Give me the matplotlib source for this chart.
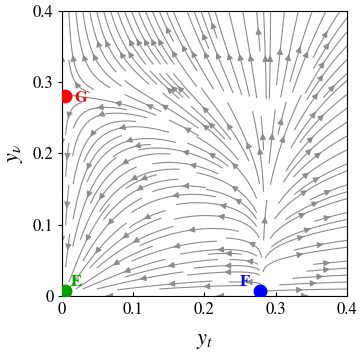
import numpy as np
import matplotlib.pyplot as plt

plt.rcParams['font.family'] = 'STIXGeneral'
plt.rcParams['mathtext.fontset'] = 'stix'

# puntos criticos
point_names = ['E', 'F', 'G']
point_x = [0.005, 0.278, 0.005]
point_y = [0.007, 0.007, 0.281]
point_colors = ['#00a000', '#0000ff', '#ff0000']

# parametros del campo
a_t = 0.28
b_v = 0.28
k_t = 3.0
lam = 5.0
alpha = 0.03
beta = 1.15 * b_v / a_t ** 2

ticks = [0, 0.1, 0.2, 0.3, 0.4]
tick_labels = ['0', '0.1', '0.2', '0.3', '0.4']

xs = np.linspace(0, 0.4, 200)
ys = np.linspace(0, 0.4, 200)
X, Y = np.meshgrid(xs, ys)
U = k_t * X * (X - a_t - alpha * Y) * np.exp(lam * (X - a_t))
V = Y * (Y - b_v + beta * X ** 2)

fig = plt.figure(figsize=(3.6, 3.54), dpi=100)
ax = fig.add_axes([0.172, 0.164, 0.792, 0.805])
ax.streamplot(X, Y, U, V, density=1.4, color='#8c8c8c', linewidth=0.8,
              arrowsize=0.9, maxlength=0.65, broken_streamlines=True)

for name, px, py, c in zip(point_names, point_x, point_y, point_colors):
    ax.plot(px, py, 'o', color=c, markersize=9, zorder=5, clip_on=True)

ax.text(0.018, 0.278, 'G', color='#ff0000', fontsize=12, fontweight='bold',
        va='center', ha='left')
ax.text(0.264, 0.020, 'F', color='#0000ff', fontsize=12, fontweight='bold',
        va='center', ha='right')
ax.text(0.012, 0.020, 'E', color='#00a000', fontsize=12, fontweight='bold',
        va='center', ha='left')

ax.set_xlim(0, 0.4)
ax.set_ylim(0, 0.4)
ax.set_xticks(ticks)
ax.set_xticklabels(tick_labels)
ax.set_yticks(ticks)
ax.set_yticklabels(tick_labels)
ax.tick_params(axis='x', direction='in', length=3, labelsize=12, pad=4)
ax.tick_params(axis='y', direction='out', length=3, labelsize=12, pad=3)
ax.set_xlabel('$y_t$', fontsize=16, labelpad=10)
ax.set_ylabel('$y_\\nu$', fontsize=16, labelpad=6)

plt.savefig('out.png', dpi=100)
